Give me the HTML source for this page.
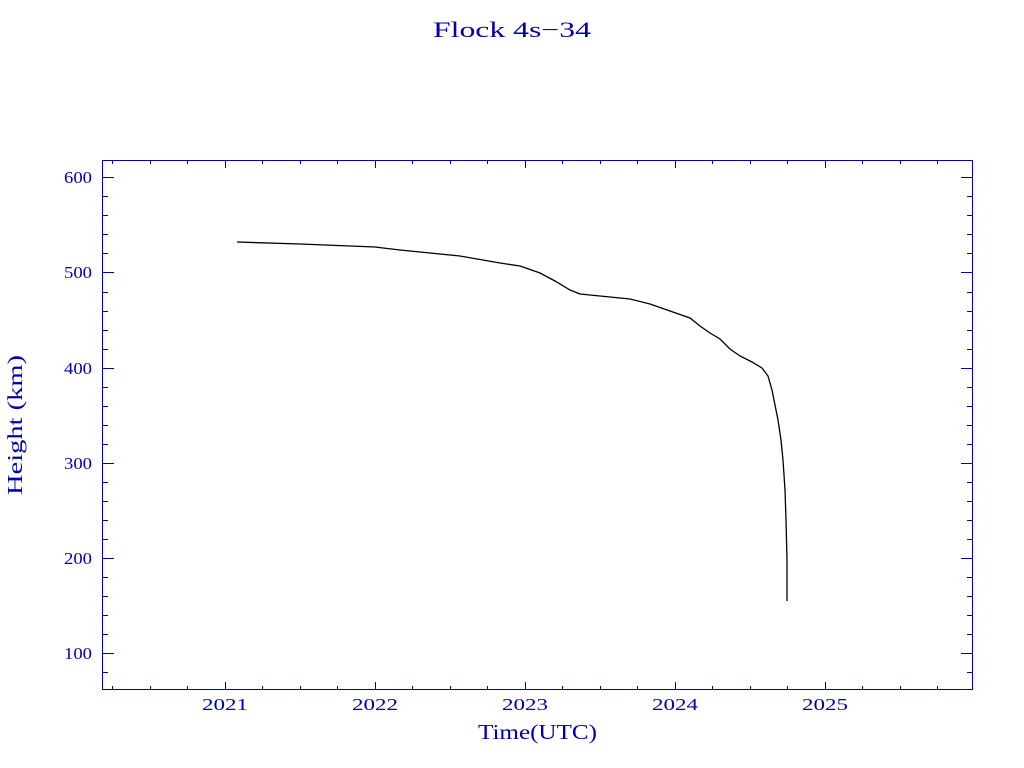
<!DOCTYPE html>
<html><head><meta charset="utf-8"><style>
html,body{margin:0;padding:0;background:#fff;}
svg{display:block;}
text{font-family:"Liberation Serif",serif;fill:#0000aa;}
</style></head><body>
<svg width="1024" height="768" viewBox="0 0 1024 768" xmlns="http://www.w3.org/2000/svg">
<rect width="1024" height="768" fill="#fff"/>
<text x="433" y="37" font-size="22" textLength="158" lengthAdjust="spacingAndGlyphs">Flock 4s−34</text>
<rect x="102.5" y="160.5" width="870" height="529" fill="none" stroke="#0000aa" stroke-width="1"/>
<g stroke="#0000aa" stroke-width="1" fill="none">
<path d="M102 672.5h6M102 653.5h12M102 634.5h6M102 615.5h6M102 596.5h6M102 577.5h6M102 558.5h12M102 539.5h6M102 520.5h6M102 501.5h6M102 482.5h6M102 463.5h12M102 444.5h6M102 425.5h6M102 406.5h6M102 387.5h6M102 368.5h12M102 349.5h6M102 330.5h6M102 311.5h6M102 292.5h6M102 272.5h12M102 253.5h6M102 234.5h6M102 215.5h6M102 196.5h6M102 177.5h12"/>
<path d="M973 672.5h-6M973 653.5h-12M973 634.5h-6M973 615.5h-6M973 596.5h-6M973 577.5h-6M973 558.5h-12M973 539.5h-6M973 520.5h-6M973 501.5h-6M973 482.5h-6M973 463.5h-12M973 444.5h-6M973 425.5h-6M973 406.5h-6M973 387.5h-6M973 368.5h-12M973 349.5h-6M973 330.5h-6M973 311.5h-6M973 292.5h-6M973 272.5h-12M973 253.5h-6M973 234.5h-6M973 215.5h-6M973 196.5h-6M973 177.5h-12"/>
<path d="M112.5 690v-4M150.5 690v-4M187.5 690v-4M225.5 690v-8M262.5 690v-4M300.5 690v-4M337.5 690v-4M375.5 690v-8M412.5 690v-4M450.5 690v-4M487.5 690v-4M525.5 690v-8M562.5 690v-4M600.5 690v-4M637.5 690v-4M675.5 690v-8M712.5 690v-4M750.5 690v-4M787.5 690v-4M825.5 690v-8M862.5 690v-4M900.5 690v-4M937.5 690v-4"/>
<path d="M112.5 160v4M150.5 160v4M187.5 160v4M225.5 160v8M262.5 160v4M300.5 160v4M337.5 160v4M375.5 160v8M412.5 160v4M450.5 160v4M487.5 160v4M525.5 160v8M562.5 160v4M600.5 160v4M637.5 160v4M675.5 160v8M712.5 160v4M750.5 160v4M787.5 160v4M825.5 160v8M862.5 160v4M900.5 160v4M937.5 160v4"/>
</g>
<g font-size="17">
<text x="64" y="659" textLength="28" lengthAdjust="spacingAndGlyphs">100</text>
<text x="64" y="564" textLength="28" lengthAdjust="spacingAndGlyphs">200</text>
<text x="64" y="469" textLength="28" lengthAdjust="spacingAndGlyphs">300</text>
<text x="64" y="374" textLength="28" lengthAdjust="spacingAndGlyphs">400</text>
<text x="64" y="278" textLength="28" lengthAdjust="spacingAndGlyphs">500</text>
<text x="64" y="183" textLength="28" lengthAdjust="spacingAndGlyphs">600</text>
</g>
<g font-size="17">
<text x="202" y="710" textLength="46" lengthAdjust="spacingAndGlyphs">2021</text>
<text x="352" y="710" textLength="46" lengthAdjust="spacingAndGlyphs">2022</text>
<text x="502" y="710" textLength="46" lengthAdjust="spacingAndGlyphs">2023</text>
<text x="652" y="710" textLength="46" lengthAdjust="spacingAndGlyphs">2024</text>
<text x="802" y="710" textLength="46" lengthAdjust="spacingAndGlyphs">2025</text>
</g>
<text x="478" y="739" font-size="21" textLength="119" lengthAdjust="spacingAndGlyphs">Time(UTC)</text>
<text transform="translate(22 495) rotate(-90)" font-size="21" textLength="140" lengthAdjust="spacingAndGlyphs">Height (km)</text>
<polyline fill="none" stroke="#000" stroke-width="1.3" points="237,242 300,244 375,247 400,250 430,253 460,256 500,263 520,266 540,273 555,281 570,290 580,294 600,296 630,299 650,304 670,311 690,318 700,326 710,333 720,339 730,349 740,356 752,362 762,368 768,376 772,390 775,405 778,420 781,440 783,460 785,490 786,520 787,560 787,601"/>
</svg>
</body></html>
